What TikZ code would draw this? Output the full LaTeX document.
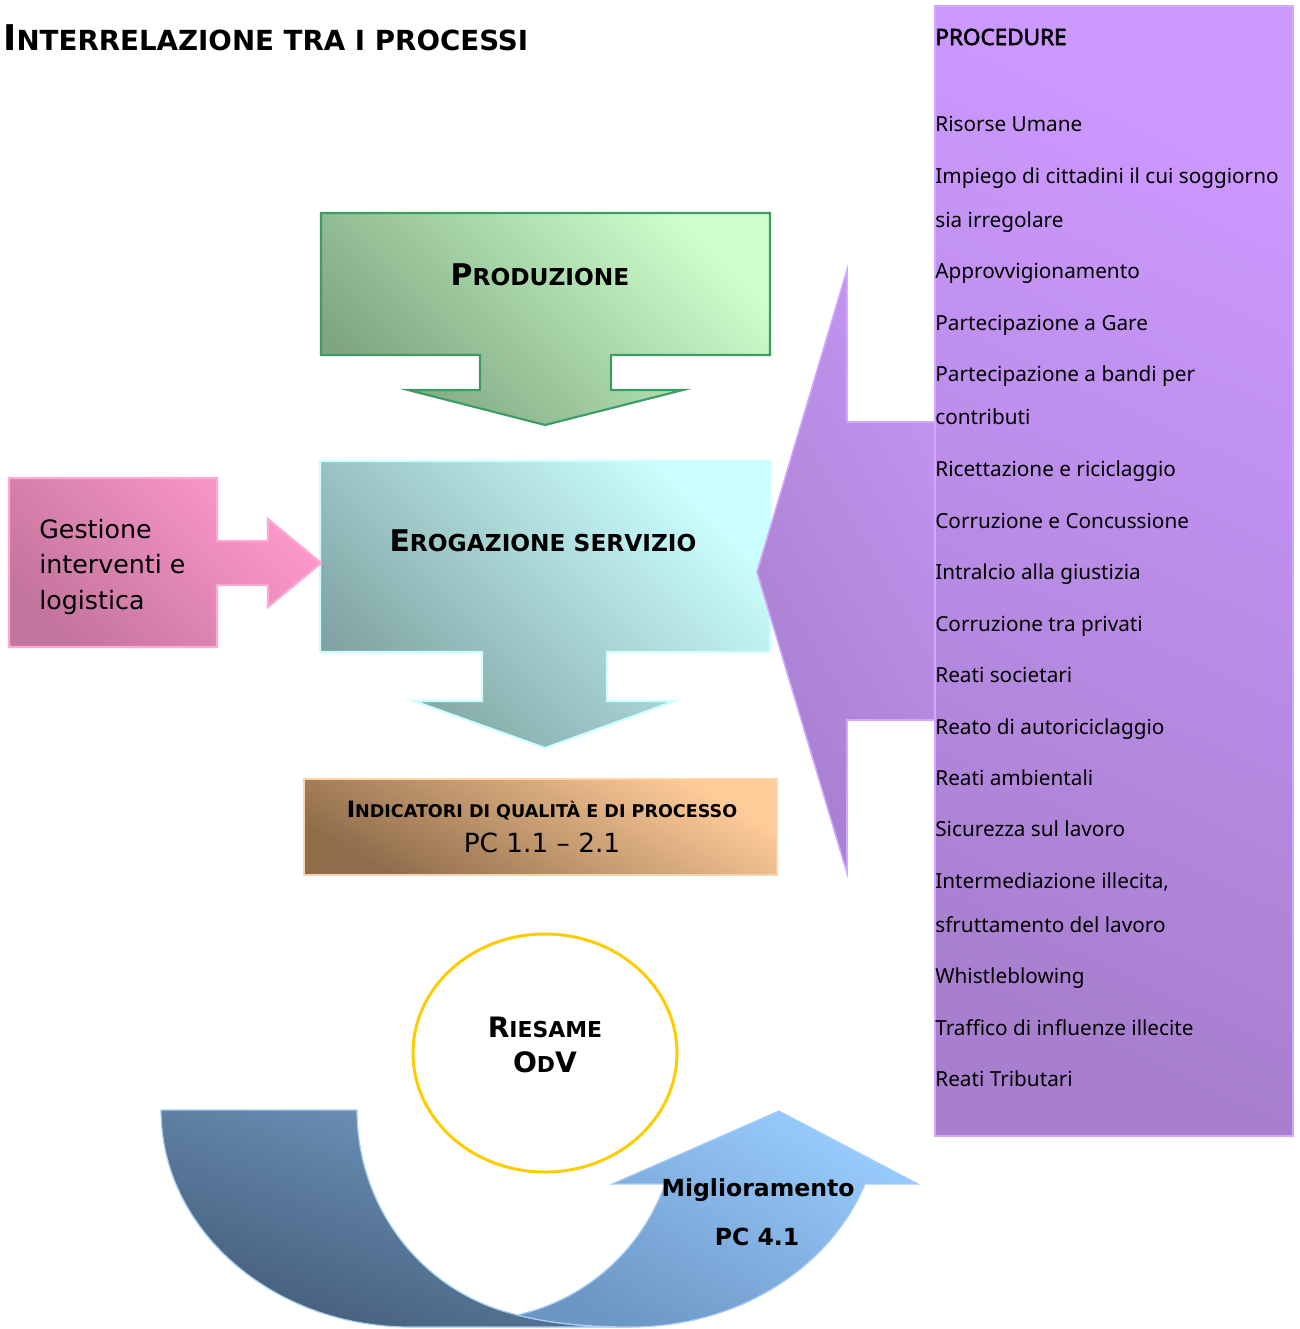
\documentclass[tikz,border=0pt]{standalone}
\usepackage{fontspec}
\usepackage{tikz}
\newfontfamily\tahoma{DejaVu Sans}
\newfontfamily\segoe{Noto Sans}
\newfontfamily\segoebold{Noto Sans}[FakeBold=2.6]

\definecolor{prodlight}{HTML}{CCFFCC}
\definecolor{proddark}{HTML}{7FA680}
\definecolor{prodline}{HTML}{3D9C64}
\definecolor{erolight}{HTML}{CCFFFF}
\definecolor{erodark}{HTML}{80A2A2}
\definecolor{gestlight}{HTML}{FF99CC}
\definecolor{gestdark}{HTML}{C4759E}
\definecolor{gestline}{HTML}{FFA8D4}
\definecolor{indlight}{HTML}{FFCC99}
\definecolor{inddark}{HTML}{8F6D4B}
\definecolor{indline}{HTML}{FFD2A8}
\definecolor{proclight}{HTML}{CC99FF}
\definecolor{procmid}{HTML}{C294F0}
\definecolor{procdark}{HTML}{A77FCE}
\definecolor{procline}{HTML}{D2A8FF}
\definecolor{riesline}{HTML}{FFCC00}
\definecolor{uturnlight}{HTML}{7299C1}
\definecolor{uturndark}{HTML}{445D79}
\definecolor{miglight}{HTML}{99CCFF}
\definecolor{migdark}{HTML}{6C96C4}
\definecolor{bandline}{HTML}{A6CDF5}

% first letter full size, the rest as small capitals
\newcommand{\fakesc}[3]{%
  \pgfmathsetmacro{\scbig}{#1}%
  \pgfmathsetmacro{\scsmall}{0.78*#1}%
  {\fontsize{\scbig}{\scbig}\selectfont #2}{\fontsize{\scsmall}{\scsmall}\selectfont #3}}

\tikzset{
  grad/.style 2 args={top color=#1, bottom color=#2, shading angle=-45},
  heading/.style={font=\tahoma\bfseries, inner sep=0pt, anchor=base},
  item/.style={font=\segoe\fontsize{11.8}{14}\selectfont, inner sep=0pt, anchor=base west},
}

\begin{document}
\begin{tikzpicture}[x=0.02cm, y=-0.02cm]
\useasboundingbox (0,0) rectangle (1300,1329);

\node[anchor=base west, font=\tahoma\bfseries, inner sep=0pt] (title) at (3,50)
  {\fakesc{20.2}{I}{NTERRELAZIONE TRA I PROCESSI}};

% produzione
\shadedraw[grad={prodlight}{proddark}, draw=prodline, line width=1.2pt]
  (321,213) -- (770,213) -- (770,355) -- (611,355) -- (611,390) -- (683,390)
  -- (545,425) -- (408,390) -- (480,390) -- (480,355) -- (321,355) -- cycle;
\node[heading] (prod) at (540,285) {\fakesc{17}{P}{RODUZIONE}};

% erogazione
\shadedraw[grad={erolight}{erodark}, draw=erolight, line width=1.2pt]
  (320,461) -- (770,461) -- (770,652) -- (607,652) -- (607,701) -- (675,701)
  -- (545,748) -- (414,701) -- (482,701) -- (482,652) -- (320,652) -- cycle;
\node[heading] (erog) at (543,551) {\fakesc{17}{E}{ROGAZIONE SERVIZIO}};

% gestione
\shadedraw[grad={gestlight}{gestdark}, draw=gestline, line width=1.2pt]
  (9,478) -- (217,478) -- (217,541) -- (268,541) -- (268,519) -- (321,563)
  -- (268,607) -- (268,585) -- (217,585) -- (217,647) -- (9,647) -- cycle;
\node[anchor=base west, align=left, inner sep=0pt,
  font=\tahoma\fontsize{14.4}{20.1}\selectfont] (gest) at (39,609)
  {Gestione\\interventi e\\logistica};

% procedure
\shade[grad={procmid}{procdark}, shading angle=-60] (757,572) -- (847,270) -- (847,422)
  -- (935,422) -- (935,720) -- (847,720) -- (847,873) -- cycle;
\draw[procline, line width=0.9pt] (935,422) -- (847,422) -- (847,270) -- (757,572)
  -- (847,873) -- (847,720) -- (935,720);
\shadedraw[grad={proclight}{procdark}, draw=procline, line width=0.6pt, shading angle=-25]
  (935,6) rectangle (1293,1136);
\node[item, font=\segoebold\fontsize{12.8}{14}\selectfont] (proc) at (935,45) {PROCEDURE};
\foreach \y/\t [count=\i] in {131/Risorse Umane, 183/Impiego di cittadini il cui soggiorno,
  227/sia irregolare, 278/Approvvigionamento, 330/Partecipazione a Gare,
  381/Partecipazione a bandi per, 424/contributi, 476/Ricettazione e riciclaggio,
  528/Corruzione e Concussione, 579/Intralcio alla giustizia, 631/Corruzione tra privati,
  682/Reati societari, 734/Reato di autoriciclaggio, 785/Reati ambientali,
  836/Sicurezza sul lavoro, 888/{Intermediazione illecita,}, 932/sfruttamento del lavoro,
  983/Whistleblowing, 1035/Traffico di influenze illecite, 1086/Reati Tributari}
  \node[item] (proc\i) at (935,\y) {\t};

% indicatori
\shadedraw[grad={indlight}{inddark}, draw=indline, line width=1.2pt, shading angle=-30]
  (304,779) rectangle (777,875);
\node[heading] (ind) at (542,817) {\fakesc{12.8}{I}{NDICATORI DI QUALITÀ E DI PROCESSO}};
\node[anchor=base, inner sep=0pt, font=\tahoma\fontsize{15}{18}\selectfont] (pc) at (542,852)
  {PC 1.1 – 2.1};

% riesame
\draw[riesline, line width=1.7pt] (545,1053) ellipse [x radius=132, y radius=119];
\node[heading] (ries) at (545,1037) {\fakesc{16}{R}{IESAME}};
\node[heading] (odv) at (545,1072) {\fakesc{16}{O}{D}\fakesc{16}{V}{}};

% miglioramento
\shadedraw[grad={uturnlight}{uturndark}, shading angle=-20, draw=bandline, line width=0.7pt]
  (161,1110) -- (357,1110) .. controls (357,1209) and (424,1294) .. (518,1315)
  .. controls (545,1322) and (580,1327) .. (631,1327) -- (410,1327)
  .. controls (273,1327) and (161,1230) .. (161,1110) -- cycle;
\shadedraw[grad={miglight}{migdark}, shading angle=-30, draw=bandline, line width=0.7pt]
  (517,1315) .. controls (585,1300) and (641,1251) .. (665,1184) -- (612,1184)
  -- (779,1111) -- (918,1184) -- (865,1184) .. controls (829,1270) and (736,1327) .. (631,1327)
  .. controls (580,1327) and (545,1322) .. (517,1315) -- cycle;
\node[anchor=base, inner sep=0pt, font=\tahoma\bfseries\fontsize{13.4}{16}\selectfont] (migl)
  at (758,1196) {Miglioramento};
\node[anchor=base, inner sep=0pt, font=\tahoma\bfseries\fontsize{13.4}{16}\selectfont] (pc41)
  at (757,1245) {PC 4.1};

\end{tikzpicture}
\end{document}
